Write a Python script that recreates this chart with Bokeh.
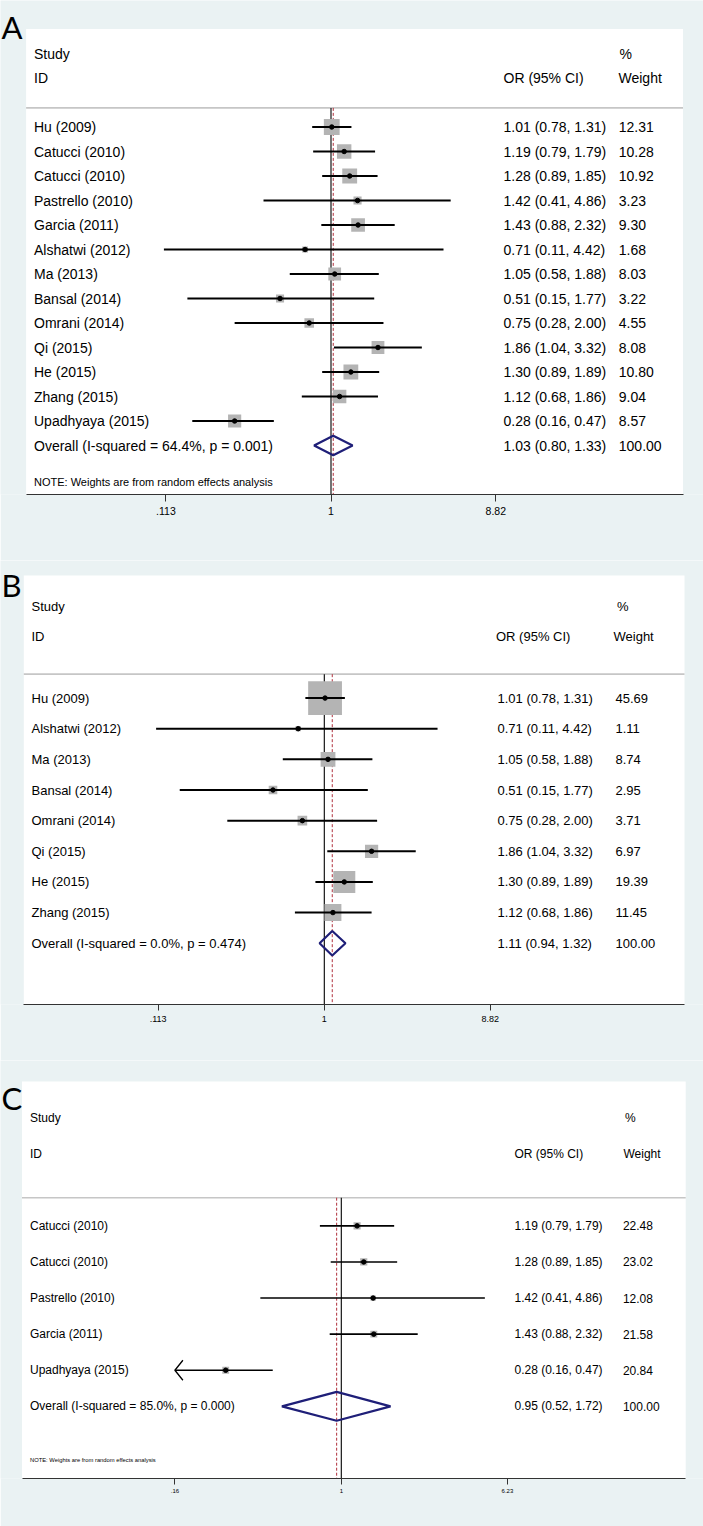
import numpy as np
from bokeh.plotting import figure
from bokeh.models import Range1d, FixedTicker
from bokeh.layouts import column
from bokeh.core.properties import value
from bokeh.embed import file_html
from bokeh.resources import INLINE

# ---------------- data ----------------
# Panel A
studies_a = ["Hu  (2009)", "Catucci (2010)", "Catucci (2010)", "Pastrello (2010)", "Garcia (2011)",
             "Alshatwi (2012)", "Ma (2013)", "Bansal (2014)", "Omrani (2014)", "Qi (2015)",
             "He (2015)", "Zhang (2015)", "Upadhyaya (2015)"]
or_a = [1.01, 1.19, 1.28, 1.42, 1.43, 0.71, 1.05, 0.51, 0.75, 1.86, 1.30, 1.12, 0.28]
lo_a = [0.78, 0.79, 0.89, 0.41, 0.88, 0.11, 0.58, 0.15, 0.28, 1.04, 0.89, 0.68, 0.16]
hi_a = [1.31, 1.79, 1.85, 4.86, 2.32, 4.42, 1.88, 1.77, 2.00, 3.32, 1.89, 1.86, 0.47]
wt_a = [12.31, 10.28, 10.92, 3.23, 9.30, 1.68, 8.03, 3.22, 4.55, 8.08, 10.80, 9.04, 8.57]
overall_a = [1.03, 0.80, 1.33]
overall_label_a = "Overall  (I-squared = 64.4%, p = 0.001)"
ticks_a = [0.113, 1, 8.82]
tick_labels_a = [".113", "1", "8.82"]

# Panel B
studies_b = ["Hu  (2009)", "Alshatwi (2012)", "Ma (2013)", "Bansal (2014)", "Omrani (2014)",
             "Qi (2015)", "He (2015)", "Zhang (2015)"]
or_b = [1.01, 0.71, 1.05, 0.51, 0.75, 1.86, 1.30, 1.12]
lo_b = [0.78, 0.11, 0.58, 0.15, 0.28, 1.04, 0.89, 0.68]
hi_b = [1.31, 4.42, 1.88, 1.77, 2.00, 3.32, 1.89, 1.86]
wt_b = [45.69, 1.11, 8.74, 2.95, 3.71, 6.97, 19.39, 11.45]
overall_b = [1.11, 0.94, 1.32]
overall_label_b = "Overall  (I-squared = 0.0%, p = 0.474)"
ticks_b = [0.113, 1, 8.82]
tick_labels_b = [".113", "1", "8.82"]

# Panel C
studies_c = ["Catucci (2010)", "Catucci (2010)", "Pastrello (2010)", "Garcia (2011)", "Upadhyaya (2015)"]
or_c = [1.19, 1.28, 1.42, 1.43, 0.28]
lo_c = [0.79, 0.89, 0.41, 0.88, 0.16]
hi_c = [1.79, 1.85, 4.86, 2.32, 0.47]
wt_c = [22.48, 23.02, 12.08, 21.58, 20.84]
overall_c = [0.95, 0.52, 1.72]
overall_label_c = "Overall  (I-squared = 85.0%, p = 0.000)"
ticks_c = [0.16, 1, 6.23]
tick_labels_c = [".16", "1", "6.23"]

note_text = "NOTE: Weights are from random effects analysis"

BG = "#eaf2f3"
BOX = "#b4b4b4"
NAVY = "#1f1f78"
RED = "#b0303c"
PAGE_W = 703


def make_panel(letter, studies, ors, los, his, wts, overall, overall_label, ticks, tick_labels, g):
    n = len(studies)
    rows = np.arange(n)
    top = g["top"]          # figure top (page px)
    H = g["H"]
    axis_y = g["axis_y"]    # page px of the axis line / bottom of plot region
    wtop = g["wtop"]        # page px of top of white region (row -4)
    rmax = g["rmax"]
    dy = (axis_y - wtop) / (rmax + 4.0)
    y0 = wtop + 4 * dy      # page px of row 0
    r_top = (top - y0) / dy
    bb = top + H - axis_y

    one, pxln = g["one"], g["pxln"]
    xs = (0 - one) / pxln
    xe = (PAGE_W - one) / pxln

    p = figure(width=PAGE_W, height=H, x_range=Range1d(xs, xe), y_range=Range1d(rmax, r_top),
               min_border_left=0, min_border_right=0, min_border_top=0,
               min_border_bottom=bb, toolbar_location=None, output_backend="svg",
               y_axis_location=None, background_fill_color=BG, border_fill_color=BG,
               outline_line_color=None)
    p.extra_x_ranges = {"px": Range1d(0, PAGE_W)}
    p.xgrid.visible = False
    p.ygrid.visible = False

    font = g["font"]
    fs = g["fs"]
    sep = -0.78
    wl, wr = g["wl"], g["wr"]
    lwl, lwr = (wl - one) / pxln, (wr - one) / pxln

    # white plot region
    p.quad(left=[wl], right=[wr], top=[-4], bottom=[rmax], x_range_name="px",
           fill_color="white", line_color=None)

    # separator & reference lines
    p.segment(x0=[lwl], x1=[lwr], y0=[sep], y1=[sep], line_color="#c6c6c6", line_width=1.6)
    p.segment(x0=[0], x1=[0], y0=[sep], y1=[rmax], line_color="black", line_width=1.1)
    lov = np.log(overall[0])
    p.segment(x0=[lov], x1=[lov], y0=[sep], y1=[rmax], line_color=RED, line_width=1,
              line_dash="3 2")

    lor = np.log(ors)
    llo = np.log(los)
    lhi = np.log(his)
    lmin = np.log(ticks[0])

    # weight boxes
    p.scatter(x=lor, y=rows, marker="square", size=g["kbox"] * np.sqrt(wts),
              fill_color=BOX, line_color=None)

    # CI lines (clipped with an arrow when beyond the axis minimum)
    arrow = np.array(los) <= ticks[0] if g.get("arrow") else np.zeros(n, bool)
    llo_c = np.where(arrow, lmin, llo)
    p.segment(x0=llo_c, x1=lhi, y0=rows, y1=rows, line_color="black", line_width=g["lw"])
    if arrow.any():
        dx = 8.0 / pxln
        ady = 10.0 / dy
        axs = [[lmin + dx, lmin, lmin + dx] for r in rows[arrow]]
        ays = [[r - ady, r, r + ady] for r in rows[arrow]]
        p.multi_line(xs=axs, ys=ays, line_color="black", line_width=1.3)

    # point estimates
    p.scatter(x=lor, y=rows, marker="circle", size=g["dot"], color="black")

    # overall diamond
    lo_o, hi_o = np.log(overall[1]), np.log(overall[2])
    p.patch(x=[lo_o, lov, hi_o, lov, lo_o], y=[n, n - 0.4, n, n + 0.4, n],
            fill_alpha=0, line_color=NAVY, line_width=2.2)

    # text columns
    tkw = dict(x_range_name="px", text_font=value(font), text_font_size=value(f"{fs}px"),
               text_baseline="middle", text_align="left", text_color="black")
    labels = list(studies) + [overall_label]
    ci_txt = [f"{o:.2f} ({l:.2f}, {h:.2f})" for o, l, h in zip(ors, los, his)]
    ci_txt.append(f"{overall[0]:.2f} ({overall[1]:.2f}, {overall[2]:.2f})")
    w_txt = [f"{w:.2f}" for w in wts] + ["100.00"]
    allrows = list(range(n + 1))
    p.text(x=[g["xlab"]] * (n + 1), y=allrows, text=labels, **tkw)
    p.text(x=[g["xor"]] * (n + 1), y=allrows, text=ci_txt, **tkw)
    p.text(x=[g["xw"]] * (n + 1), y=allrows, text=w_txt, **tkw)

    # headers
    p.text(x=[g["xlab"], g["xlab"], g["xor_h"], g["xpct"], g["xw_h"]],
           y=[-3, -2, -2, -3, -2], text=["Study", "ID", "OR (95% CI)", "%", "Weight"], **tkw)

    if g.get("note"):
        nkw = dict(tkw)
        nkw["text_font_size"] = value(f"{g['note_fs']}px")
        p.text(x=[g["xlab"]], y=[g["note_row"]], text=[note_text], **nkw)

    # panel letter
    p.text(x=[1], y=[(g["letter_y"] - y0) / dy], text=[letter], x_range_name="px",
           text_font=value("Lato"), text_font_size=value("31px"), text_baseline="middle",
           text_align="left", text_color="black")

    # axis
    ax = p.xaxis[0]
    lt = [float(v) for v in np.log(ticks)]
    ax.ticker = FixedTicker(ticks=lt)
    ax.major_label_overrides = {v: s for v, s in zip(lt, tick_labels)}
    ax.bounds = (lwl, lwr)
    ax.axis_line_color = "#333333"
    ax.axis_line_width = 1.2
    ax.major_tick_line_color = "#333333"
    ax.major_tick_out = g["tick"]
    ax.major_tick_in = 0
    ax.minor_tick_out = 0
    ax.minor_tick_in = 0
    ax.major_label_text_font = font
    ax.major_label_text_font_size = f"{g['tfs']}px"
    ax.major_label_text_color = "black"
    ax.major_label_standoff = g["standoff"]
    return p


geo_a = dict(top=0, H=560, axis_y=494, wtop=28.5, rmax=15, wl=25.6, wr=682.5,
             one=330.5, pxln=75.7, font="Liberation Sans", fs=14,
             xlab=33.5, xor=503, xw=618.3, xor_h=503, xpct=619, xw_h=618,
             kbox=4.5, lw=2, dot=4.5, tick=7, tfs=10.5, standoff=5,
             note=True, note_fs=11, note_row=14.5, letter_y=26.5)
geo_b = dict(top=560, H=500, axis_y=1004, wtop=575, rmax=10, wl=23.3, wr=684,
             one=323.8, pxln=76.2, font="Liberation Sans", fs=13,
             xlab=31, xor=497, xw=615, xor_h=495.5, xpct=616.6, xw_h=613,
             kbox=5.0, lw=2, dot=4.5, tick=6, tfs=9, standoff=5,
             note=False, letter_y=584)
geo_c = dict(top=1060, H=466, axis_y=1478, wtop=1081, rmax=7, wl=21.5, wr=685.2,
             one=340.8, pxln=90.8, font="Liberation Sans", fs=12,
             xlab=29.5, xor=514, xw=622.4, xor_h=514, xpct=624.6, xw_h=623,
             kbox=1.5, lw=1.6, dot=4.5, tick=6, tfs=6, standoff=4,
             note=True, note_fs=5.8, note_row=6.5, letter_y=1097, arrow=True)

pa = make_panel("A", studies_a, or_a, lo_a, hi_a, wt_a, overall_a, overall_label_a,
                ticks_a, tick_labels_a, geo_a)
pb = make_panel("B", studies_b, or_b, lo_b, hi_b, wt_b, overall_b, overall_label_b,
                ticks_b, tick_labels_b, geo_b)
pc = make_panel("C", studies_c, or_c, lo_c, hi_c, wt_c, overall_c, overall_label_c,
                ticks_c, tick_labels_c, geo_c)

layout = column(pa, pb, pc, spacing=0)
open("out.html", "w").write(file_html(layout, INLINE))
